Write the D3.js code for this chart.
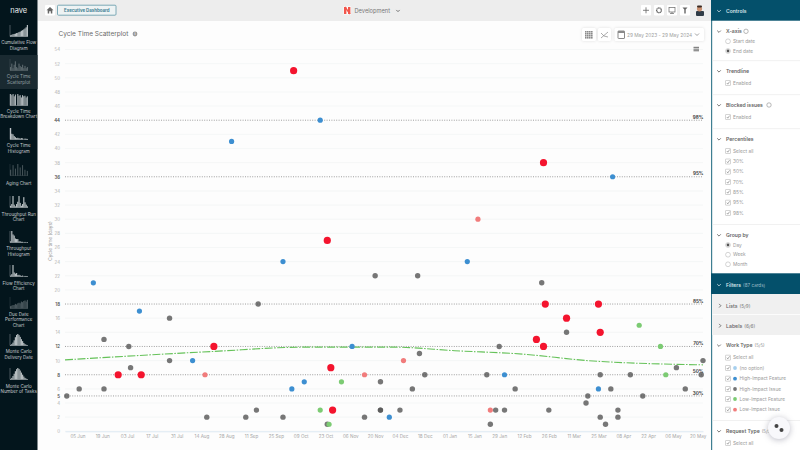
<!DOCTYPE html>
<html>
<head>
<meta charset="utf-8">
<script src="https://cdn.jsdelivr.net/npm/d3@7"></script>
<style>
body{margin:0;background:#fff;overflow:hidden}
svg{display:block;font-family:Inter,"Open Sans",sans-serif}
</style>
</head>
<body>
<div id="chart"></div>
<script>
// chart data
var yTicks = [0,2,4,5,6,8,10,12,14,16,18,20,22,24,26,28,30,32,34,36,38,40,42,44,46,48,50,52,54];
var xTicks = ["2023-06-05","2023-06-19","2023-07-03","2023-07-17","2023-07-31","2023-08-14","2023-08-28","2023-09-11","2023-09-25","2023-10-09","2023-10-23","2023-11-06","2023-11-20","2023-12-04","2023-12-18","2024-01-01","2024-01-15","2024-01-29","2024-02-12","2024-02-26","2024-03-11","2024-03-25","2024-04-08","2024-04-22","2024-05-06","2024-05-20"];
var percentileNames = ["30%","50%","70%","85%","95%","98%"];
var percentileValues = [5,8,12,18,36,44];

var issueDates = ["2023-07-27","2023-07-27","2023-06-20","2023-06-20","2023-07-04","2023-08-21","2023-07-05","2023-05-30","2023-06-06","2023-08-17","2023-09-08","2023-09-14","2023-09-15","2023-11-20","2023-12-14","2024-01-29","2023-12-15","2023-12-18","2024-01-22","2023-11-23","2023-11-23","2023-11-23","2023-12-11","2024-02-07","2023-12-04","2024-01-27","2024-02-01","2023-09-29","2023-11-14","2023-10-24","2024-01-24","2024-02-22","2024-03-07","2024-05-23","2024-05-08","2024-03-26","2024-04-12","2024-05-22","2024-04-01","2024-05-13","2024-03-19","2024-04-19","2024-03-18","2024-02-26","2024-04-05","2024-04-05","2024-03-26","2024-03-29"];
var issueDays = [16,10,13,6,12,12,9,5,6,2,2,3,18,22,22,12,11,8,8,7,3,3,6,6,3,3,3,2,2,1,1,21,14,10,9,8,8,8,6,6,5,5,4,3,3,2,2,1];
var featureDates = ["2023-08-31","2023-06-14","2023-07-10","2023-08-09","2023-10-20","2023-09-29","2024-01-11","2023-11-07","2024-02-01","2023-10-11","2023-10-04","2023-11-28","2024-04-02","2024-03-25"];
var featureDays = [41,21,17,10,44,24,24,12,8,7,6,2,36,6];
var lowFeatureDates = ["2023-11-01","2023-10-20","2023-10-25","2024-04-17","2024-04-29","2024-05-02"];
var lowFeatureDays = [7,3,1,15,12,8];
var lowIssueDates = ["2023-08-16","2024-01-17","2023-12-06","2023-11-14","2024-01-24"];
var lowIssueDays = [8,30,10,8,3];
var blockedDates = ["2023-10-05","2023-10-24","2024-02-19","2023-10-26","2023-10-27","2023-06-28","2023-07-11","2023-08-21","2024-02-23","2024-02-23","2024-02-24","2024-03-25","2024-03-07","2024-03-26"];
var blockedDays = [51,27,13,9,3,8,8,12,38,12,18,18,16,14];

var trendDates = ["2023-05-29","2023-08-21","2023-10-11","2023-12-01","2024-01-04","2024-02-12","2024-03-19","2024-05-23"];
var trendDays = [10.1,11.3,11.9,11.9,11.4,10.9,10.0,9.4];

var navNames = [["Cumulative Flow","Diagram"],["Cycle Time","Scatterplot"],["Cycle Time","Breakdown Chart"],["Cycle Time","Histogram"],["Aging Chart"],["Throughput Run","Chart"],["Throughput","Histogram"],["Flow Efficiency","Chart"],["Due Date","Performance","Chart"],["Monte Carlo","Delivery Date"],["Monte Carlo","Number of Tasks"]];
var navHeights = [
	[.1,.15,.2,.22,.25,.3,.32,.38,.42,.5,.55,.62,.7,.8,1],
	[.3,.6,.2,.5,.8,.3,.2,.6,.4,.3,.5,.2,.4,.2,.3],
	[1,.9,1,.8,.95,0,1,.85,.9,.7,.9,.8,.85,.7,.8],
	[1,.5,.45,.3,.2,.12,.15,.12,.08,.12,.1,0,.08,.06,.05],
	[.5,0,.9,0,.6,0,1,0,.7,0,.9,0,.5,0,.4],
	[.15,.3,1,.25,.1,.3,.5,1,.4,.15,.3,.9,.45,.25,.1],
	[.1,1,.7,.6,.35,.3,.3,.1,.1,.06,.06,0,.05,0,.04],
	[.08,.2,1,.35,.25,.3,.12,.15,.1,.05,.08,0,.05,.04,.03],
	[.2,.25,.3,.3,.4,.35,.45,.5,.45,.6,.55,.65,.7,.6,.75],
	[.05,.12,.25,.45,.72,.92,1,.9,.75,.55,.38,.22,.12,.06,.03],
	[.05,.14,.3,.5,.72,.9,1,.92,.78,.6,.42,.26,.14,.07,.03]
];
var navIconTops = [25,59,94,128,164,196,231,265,297,334,368];
var navTextTops = [42.5,76.7,111,145.3,183,214,248.3,283,314,351.5,386];

var W = 800, H = 450;
var svg = d3.select("#chart").append("svg").attr("width",W).attr("height",H);
svg.append("rect").attr("width",W).attr("height",H).attr("fill","#fdfdfd");

function label(g,x,y,str,size,color,weight,anchor){
	return g.append("text").attr("x",x).attr("y",y).attr("dy","0.35em")
		.attr("font-size",size).attr("fill",color).attr("font-weight",weight||400)
		.attr("text-anchor",anchor||"start").text(str);
}
function box(g,x,y,w,h,fill,rx){
	return g.append("rect").attr("x",x).attr("y",y).attr("width",w).attr("height",h).attr("fill",fill).attr("rx",rx||0);
}

//scalers
var parse = d3.timeParse("%Y-%m-%d");
var xscale = d3.scaleTime().domain([parse("2023-05-29"),parse("2024-05-23")]).range([65,703]);
var yscale = d3.scaleLinear().domain([0,54]).range([431.3,49.5]);

// grid
var plot = svg.append("g");
plot.selectAll(".grid").data(yTicks.filter(function(t){return t%2==0 && percentileValues.indexOf(t)<0}))
	.enter().append("line").attr("class","grid")
	.attr("x1",65).attr("x2",703)
	.attr("y1",function(d){return yscale(d)}).attr("y2",function(d){return yscale(d)})
	.attr("stroke","#f1f3f4").attr("stroke-width",.7);

plot.selectAll(".pct").data(percentileValues).enter().append("line").attr("class","pct")
	.attr("x1",65).attr("x2",703)
	.attr("y1",function(d){return yscale(d)}).attr("y2",function(d){return yscale(d)})
	.attr("stroke","#777").attr("stroke-width",.7).attr("stroke-dasharray","1,1.4");

percentileValues.forEach(function(v,i){
	label(plot,703.5,yscale(v)-3,percentileNames[i],4.6,"#444",700,"end");
});

// axes
var yaxis = d3.axisLeft(yscale).tickValues(yTicks).tickSize(0).tickPadding(0).tickFormat(d3.format("d"));
var xaxis = d3.axisBottom(xscale).tickValues(xTicks.map(parse)).tickSize(0).tickPadding(3.5).tickFormat(d3.timeFormat("%d %b"));
var yg = plot.append("g").attr("transform","translate(60,0)").call(yaxis);
yg.select(".domain").remove();
yg.selectAll("text").attr("font-size",4.4).attr("fill",function(d){return percentileValues.indexOf(d)>=0?"#555":"#b0b0b0"})
	.attr("font-weight",function(d){return percentileValues.indexOf(d)>=0?600:400}).attr("font-family","Inter");
var xg = plot.append("g").attr("transform","translate(0,431.3)").call(xaxis);
xg.select(".domain").attr("stroke","#dbe8f4").attr("stroke-width",.9);
xg.selectAll("text").attr("font-size",4.6).attr("fill","#a5a5a5").attr("font-family","Inter");

plot.append("text").attr("transform","translate(52,241) rotate(-90)").attr("text-anchor","middle")
	.attr("font-size",4.8).attr("fill","#999").text("Cycle time (days)");

// points
function dots(dates,days,color,r,op){
	plot.append("g").selectAll("circle").data(dates).enter().append("circle")
		.attr("cx",function(d){return xscale(parse(d))})
		.attr("cy",function(d,i){return yscale(days[i])})
		.attr("r",r).attr("fill",color).attr("fill-opacity",op||1);
}
dots(issueDates,issueDays,"#555",2.7,.8);

// trendline
var line = d3.line().curve(d3.curveMonotoneX)
	.x(function(d){return xscale(parse(d))})
	.y(function(d,i){return yscale(trendDays[i])});
plot.append("path").datum(trendDates).attr("d",line).attr("fill","none")
	.attr("stroke","#66c25a").attr("stroke-width",1.1).attr("stroke-dasharray","8,1.5,1.5,1.5");

dots(featureDates,featureDays,"#3d8fd1",2.6);
dots(lowFeatureDates,lowFeatureDays,"#7ccb73",2.6);
dots(lowIssueDates,lowIssueDays,"#f17c7c",2.6);
dots(blockedDates,blockedDays,"#f4142e",3.6);

// title row
label(svg,58.5,34.2,"Cycle Time Scatterplot",6.5,"#6a6a6a");
svg.append("circle").attr("cx",135).attr("cy",34).attr("r",2.4).attr("fill","#999");
label(svg,135,34,"i",3.5,"#fff",700,"middle");

function whiteBtn(x,y,w,h){
	box(svg,x,y,w,h,"#fff",1.5).style("filter","drop-shadow(0 0 1.5px rgba(0,0,0,.12))");
}
whiteBtn(582,28,14,13);
var gridIcon = svg.append("g");
d3.range(4).forEach(function(r){d3.range(4).forEach(function(c){
	box(gridIcon,585+c*2,31+r*2,1.6,1.6,"#8a8a8a");
})});
whiteBtn(598,28,13,13);
svg.append("path").attr("d","M601 38 L608 32 M601 33 L604 36 L608 37").attr("fill","none").attr("stroke","#888").attr("stroke-width",.7);
whiteBtn(614.5,28,89.5,13);
box(svg,618,31,6.5,7.5,"none",.5).attr("stroke","#8a8a8a").attr("stroke-width",1);
box(svg,618,31,6.5,2,"#8a8a8a");
label(svg,627,35,"29 May 2023 - 29 May 2024",4.8,"#a0a0a0");
function chevron(x,y,s,color,right){
	var d = right ? "M"+(x-s/2)+" "+(y-s)+"L"+(x+s/2)+" "+y+"L"+(x-s/2)+" "+(y+s)
		: "M"+(x-s)+" "+(y-s/2)+"L"+x+" "+(y+s/2)+"L"+(x+s)+" "+(y-s/2);
	svg.append("path").attr("d",d).attr("fill","none").attr("stroke",color).attr("stroke-width",.8);
}
chevron(697,34.5,2,"#888");
[46.8,48.6,50.2].forEach(function(y){box(svg,693.5,y,5.5,1.1,"#777")});

// top bar
box(svg,37.5,0,674,21,"#ededed");
box(svg,45,5,10,10.5,"#fff",1);
svg.append("path").attr("d","M50 7 L53.5 10.3 H52.3 V13.5 H50.8 V11.3 H49.2 V13.5 H47.7 V10.3 H46.5 Z").attr("fill","#666");
box(svg,57.5,5.2,58.5,10,"#eef3f4",1).attr("stroke","#5f98a8").attr("stroke-width",.8);
label(svg,86.8,10.3,"Executive Dashboard",4.4,"#3e8193",700,"middle");
box(svg,343.5,6.5,7.5,8,"#fff");
box(svg,344,7,2.4,7,"#f2574d");box(svg,348,7,2.4,7,"#f2574d");
svg.append("path").attr("d","M345 7 L350 14").attr("stroke","#f2574d").attr("stroke-width",1.3);
label(svg,354.5,11.3,"Development",5.7,"#777");
chevron(398,10.8,1.7,"#555");

var topIcons = [641,654,667,680];
topIcons.forEach(function(x){box(svg,x,5,10,10.5,"#fff",1)});
svg.append("path").attr("d","M646 7.3 V13.3 M643 10.3 H649").attr("stroke","#666").attr("stroke-width",.8);
svg.append("circle").attr("cx",659).attr("cy",10.3).attr("r",2.4).attr("fill","none").attr("stroke","#666").attr("stroke-width",1.3).attr("stroke-dasharray","1.2,.3");
box(svg,669,7.5,6,4.5,"none").attr("stroke","#666").attr("stroke-width",.7);
svg.append("path").attr("d","M672 12 V13.5 M670 13.5 H674").attr("stroke","#666").attr("stroke-width",.7);
svg.append("path").attr("d","M682.5 7.5 H687.5 L685.7 9.5 V13.5 H684.3 V9.5 Z").attr("fill","#666");
box(svg,696,11,8,5,"#2f3b46",1);
svg.append("circle").attr("cx",699.5).attr("cy",8.8).attr("r",2.6).attr("fill","#c98f70");
box(svg,697,5.5,5,2,"#3a2a22",1);

// left nav
box(svg,0,0,37.5,H,"#03151c");
box(svg,0,55,37.5,34,"#1a2a31");
label(svg,18.7,10,"nave",7.5,"#e8ecee",400,"middle");
navNames.forEach(function(lines,i){
	var dim = (i==1||i==4||i==8);
	var ny = d3.scaleLinear().domain([0,1]).range([navIconTops[i]+11.5,navIconTops[i]]);
	var nx = d3.scaleBand().domain(d3.range(navHeights[i].length)).range([10,28]).padding(i==2||i==4?.15:0);
	svg.append("g").attr("opacity",dim?.3:.8).selectAll("rect").data(navHeights[i]).enter().append("rect")
		.attr("x",function(d,k){return nx(k)}).attr("width",nx.bandwidth())
		.attr("y",function(d){return ny(d)}).attr("height",function(d){return ny(0)-ny(d)})
		.attr("fill","#e2e6e8");
	svg.append("path").attr("d","M10 "+navIconTops[i]+" V"+(navIconTops[i]+11.5)+" H28").attr("fill","none")
		.attr("stroke","#e2e6e8").attr("stroke-width",.4).attr("opacity",dim?.3:.8);
	lines.forEach(function(t,k){
		label(svg,18.7,navTextTops[i]+k*5.8,t,4.5,i==1?"#98a3a8":"#c5cbce",400,"middle");
	});
});

// right panel
box(svg,711,0,89,H,"#fff");
box(svg,711,0,1.2,H,"#3f7f92");
box(svg,711,0,89,20.7,"#04506b");
chevron(719,11,1.8,"#cfe0e6");
label(svg,726,11,"Controls",5,"#d4e3e8",600);

function heading(y,str,extra){
	chevron(719,y+.2,1.8,"#555");
	var t = label(svg,726,y,str,5.1,"#666",600);
	if(extra) t.append("tspan").attr("font-weight",400).attr("font-size",4.4).attr("fill","#888").attr("dx",2).text(extra);
}
function check(y,str,dot){
	box(svg,725.5,y-2.5,5,5,"#fff",.4).attr("stroke","#aaa").attr("stroke-width",.5);
	svg.append("path").attr("d","M726.8 "+y+" L727.8 "+(y+1.2)+" L729.6 "+(y-1.4)).attr("fill","none").attr("stroke","#666").attr("stroke-width",.55);
	var tx = 733;
	if(dot){
		svg.append("circle").attr("cx",735).attr("cy",y).attr("r",1.9).attr("fill",dot);
		tx = 739.5;
	}
	label(svg,tx,y,str,4.8,"#999");
}
function radio(y,str,on){
	svg.append("circle").attr("cx",728).attr("cy",y).attr("r",2.4).attr("fill","#fff").attr("stroke","#aaa").attr("stroke-width",.5);
	if(on) svg.append("circle").attr("cx",728).attr("cy",y).attr("r",1.4).attr("fill","#555");
	label(svg,733,y,str,4.8,"#999");
}
function sep(y){box(svg,712,y,88,.6,"#e8e8e8")}

heading(31.3,"X-axis");
svg.append("circle").attr("cx",746).attr("cy",31.3).attr("r",2.2).attr("fill","none").attr("stroke","#999").attr("stroke-width",.7);
radio(41.3,"Start date",false);
radio(51,"End date",true);
sep(60.5);
heading(71,"Trendline");
check(83,"Enabled");
sep(94.5);
heading(105,"Blocked issues");
svg.append("circle").attr("cx",769).attr("cy",105).attr("r",2.2).attr("fill","none").attr("stroke","#999").attr("stroke-width",.7);
check(117,"Enabled");
sep(128.5);
heading(139,"Percentiles");
var pctRows = [151,161.5,171.7,182,192,202.7,213];
["Select all"].concat(percentileNames).forEach(function(t,i){check(pctRows[i],t)});
sep(224);
heading(235,"Group by");
radio(245,"Day",true);
radio(254.7,"Week",false);
radio(264.3,"Month",false);

box(svg,711,273.3,89,20.7,"#04506b");
chevron(719,285,1.8,"#cfe0e6");
var ft = label(svg,726,285,"Filters",5,"#d4e3e8",600);
ft.append("tspan").attr("font-weight",400).attr("font-size",4.6).attr("dx",2).attr("fill","#9dbcc7").text("(87 cards)");
box(svg,712,294,88,20,"#f0f0f0");
box(svg,712,314.5,88,20.5,"#f0f0f0");
box(svg,712,314,88,.6,"#fff");
chevron(720,305.7,1.8,"#555",true);
label(svg,726,305.7,"Lists",5.2,"#666",500).append("tspan").attr("font-size",4.6).attr("dx",2).attr("fill","#888").text("(5/9)");
chevron(720,325.7,1.8,"#555",true);
label(svg,726,325.7,"Labels",5.2,"#666",500).append("tspan").attr("font-size",4.6).attr("dx",2).attr("fill","#888").text("(6/6)");

heading(345.3,"Work Type","(5/5)");
check(357.7,"Select all");
check(368,"(no option)","#a6cfee");
check(378.7,"High-Impact Feature","#3d8fd1");
check(389,"High-Impact Issue","#757575");
check(399,"Low-Impact Feature","#7ccb73");
check(409.7,"Low-Impact Issue","#f17c7c");
sep(420);
heading(431,"Request Type","(5/5)");
check(443,"Select all");

// floating button
svg.append("circle").attr("cx",779).attr("cy",428).attr("r",11).attr("fill","#f8f8fb")
	.style("filter","drop-shadow(0 1.5px 3px rgba(60,60,90,.35))");
svg.append("circle").attr("cx",776.5).attr("cy",426).attr("r",2).attr("fill","#444");
svg.append("circle").attr("cx",781.5).attr("cy",430).attr("r",2).attr("fill","#444");
</script>
</body>
</html>
